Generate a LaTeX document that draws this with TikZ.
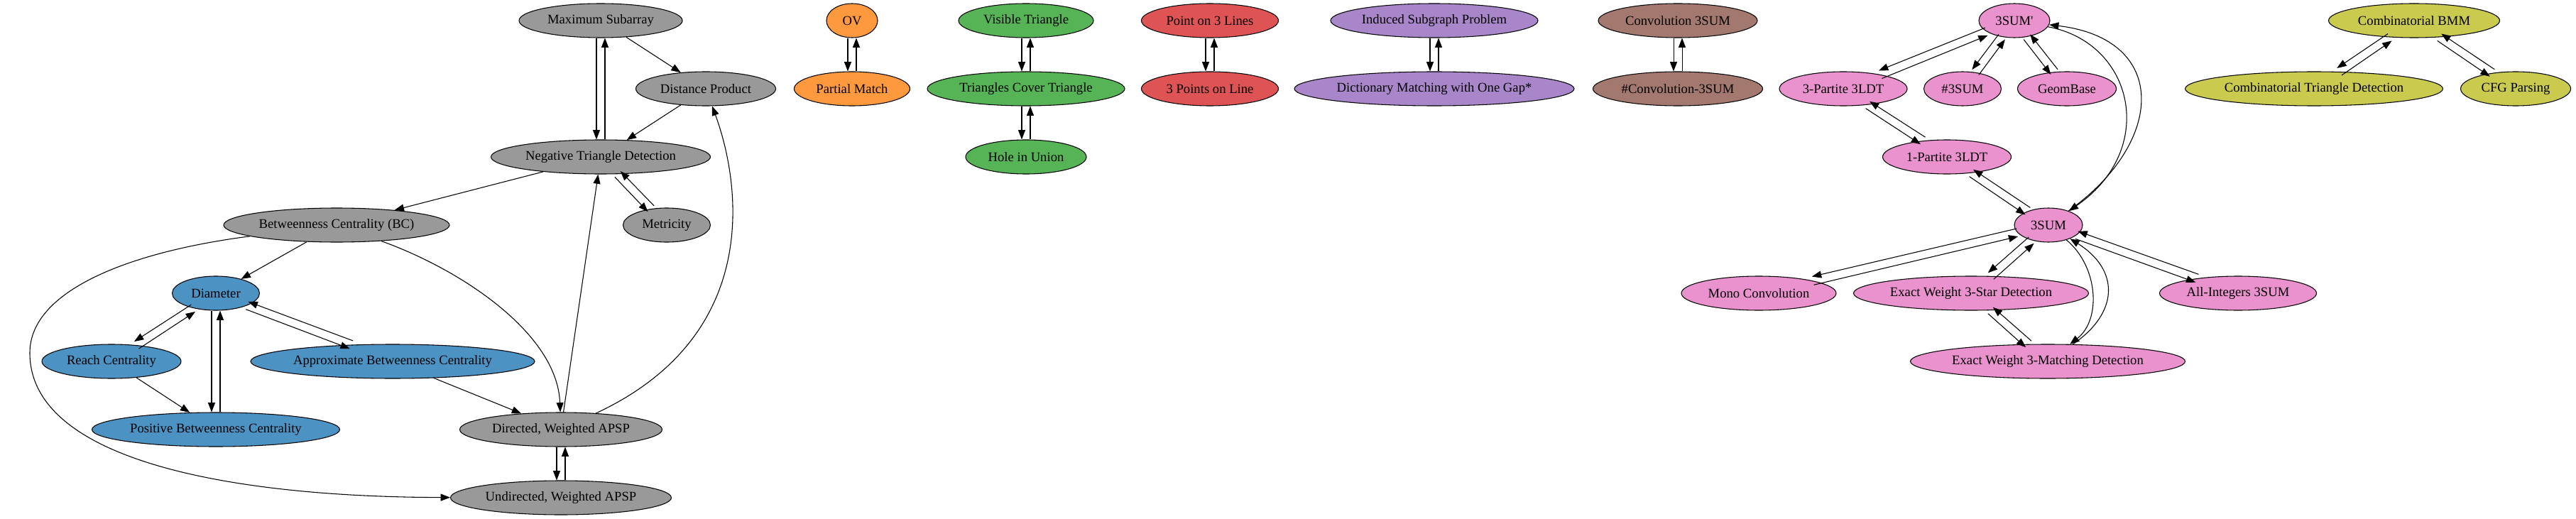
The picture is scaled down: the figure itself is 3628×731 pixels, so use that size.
\documentclass[tikz,border=0pt]{standalone}
\usepackage{fontspec}
\setmainfont{Liberation Serif}
\usetikzlibrary{arrows.meta,shapes.geometric,calc}
\definecolor{cgray}{RGB}{153,153,153}
\definecolor{cblue}{RGB}{76,146,195}
\definecolor{corange}{RGB}{255,153,62}
\definecolor{cgreen}{RGB}{86,179,86}
\definecolor{cred}{RGB}{222,83,84}
\definecolor{cpurple}{RGB}{169,134,202}
\definecolor{cbrown}{RGB}{163,120,111}
\definecolor{cpink}{RGB}{233,146,206}
\definecolor{colive}{RGB}{201,202,78}
\tikzset{
  prob/.style={draw, ellipse, inner sep=0pt, minimum height=36pt,
    font=\fontsize{14}{16}\selectfont},
  wd/.style={minimum width=#1*0.75pt},
  apsp/.style={prob, fill=cgray},
  cent/.style={prob, fill=cblue},
  ovp/.style={prob, fill=corange},
  geo/.style={prob, fill=cgreen},
  pts/.style={prob, fill=cred},
  subg/.style={prob, fill=cpurple},
  conv/.style={prob, fill=cbrown},
  sumthree/.style={prob, fill=cpink},
  bmm/.style={prob, fill=colive},
  pair/.style={to path={
    let \p1=($(\tikztotarget)-(\tikztostart)$), \n1={atan2(\y1,\x1)} in
    ([shift={(\n1-90:6)}]\tikztostart.\n1) --
    ([shift={(\n1-90:6)}]\tikztotarget.\n1+180) \tikztonodes}}
}
\begin{document}
\begin{tikzpicture}[x=0.75pt, y=0.75pt, line width=0.8pt,
    >={Triangle[length=10pt,width=7.5pt]}]
  \useasboundingbox (0,0) rectangle (3628,-731);
  \draw
    (846,-29) node[apsp, wd=230] (ms) {Maximum Subarray}
    (994,-125) node[apsp, wd=197] (dp) {Distance Product}
    (846,-221) node[apsp, wd=309] (ntd) {Negative Triangle Detection}
    (474,-317) node[apsp, wd=318] (bc) {Betweenness Centrality (BC)}
    (939,-317) node[apsp, wd=123] (met) {Metricity}
    (790,-605) node[apsp, wd=285] (dapsp) {Directed, Weighted APSP}
    (790,-701) node[apsp, wd=311] (uapsp) {Undirected, Weighted APSP}
    (304,-413) node[cent, wd=123] (dia) {Diameter}
    (157,-509) node[cent, wd=196] (rc) {Reach Centrality}
    (553,-509) node[cent, wd=400] (abc) {Approximate Betweenness Centrality}
    (304,-605) node[cent, wd=349] (pbc) {Positive Betweenness Centrality}
    (1200,-29) node[ovp, wd=72] (ov) {OV}
    (1200,-125) node[ovp, wd=163] (pm) {Partial Match}
    (1445,-29) node[geo, wd=190] (vt) {Visible Triangle}
    (1445,-125) node[geo, wd=278] (tct) {Triangles Cover Triangle}
    (1445,-221) node[geo, wd=170] (hiu) {Hole in Union}
    (1704,-29) node[pts, wd=193] (pol) {Point on 3 Lines}
    (1704,-125) node[pts, wd=193] (tpl) {3 Points on Line}
    (2020,-29) node[subg, wd=292] (isp) {Induced Subgraph Problem}
    (2020,-125) node[subg, wd=394] (dmg) {Dictionary Matching with One Gap*}
    (2363,-29) node[conv, wd=224] (cts) {Convolution 3SUM}
    (2363,-125) node[conv, wd=239] (ncts) {\#Convolution-3SUM}
    (2837,-29) node[sumthree, wd=100] (tsp) {3SUM\textquotesingle}
    (2596,-125) node[sumthree, wd=180] (tpart) {3-Partite 3LDT}
    (2764,-125) node[sumthree, wd=109] (nts) {\#3SUM}
    (2911,-125) node[sumthree, wd=139] (geom) {GeomBase}
    (2742,-221) node[sumthree, wd=181] (opart) {1-Partite 3LDT}
    (2885,-317) node[sumthree, wd=96] (ts) {3SUM}
    (2477,-413) node[sumthree, wd=218] (mono) {Mono Convolution}
    (2776,-413) node[sumthree, wd=331] (star) {Exact Weight 3-Star Detection}
    (3152,-413) node[sumthree, wd=221] (allint) {All-Integers 3SUM}
    (2884,-509) node[sumthree, wd=387] (match) {Exact Weight 3-Matching Detection}
    (3400,-29) node[bmm, wd=241] (cbmm) {Combinatorial BMM}
    (3259,-125) node[bmm, wd=363] (ctd) {Combinatorial Triangle Detection}
    (3543,-125) node[bmm, wd=155] (cfg) {CFG Parsing};
  \begin{scope}[->]
    \draw (ms) to[pair] (ntd);
    \draw (ntd) to[pair] (ms);
    \draw (ms) to (dp);
    \draw (dp) to (ntd);
    \draw (ntd) to (bc);
    \draw (ntd) to[pair] (met);
    \draw (met) to[pair] (ntd);
    \draw (dapsp) to (ntd);
    \draw (dapsp) .. controls (1080,-470) and (1040,-250) .. (dp);
    \draw (bc) .. controls (650,-380) and (785,-470) .. (dapsp);
    \draw (bc) to (dia);
    \draw (bc) .. controls (180,-355) and (42,-410) .. (42,-497)
      .. controls (42,-650) and (330,-700) .. (uapsp);
    \draw (dapsp) to[pair] (uapsp);
    \draw (uapsp) to[pair] (dapsp);
    \draw (abc) to (dapsp);
    \draw (dia) to[pair] (rc);
    \draw (rc) to[pair] (dia);
    \draw (dia) to[pair] (pbc);
    \draw (pbc) to[pair] (dia);
    \draw (dia) to[pair] (abc);
    \draw (abc) to[pair] (dia);
    \draw (rc) to (pbc);
    \draw (ov) to[pair] (pm);
    \draw (pm) to[pair] (ov);
    \draw (vt) to[pair] (tct);
    \draw (tct) to[pair] (vt);
    \draw (tct) to[pair] (hiu);
    \draw (hiu) to[pair] (tct);
    \draw (pol) to[pair] (tpl);
    \draw (tpl) to[pair] (pol);
    \draw (isp) to[pair] (dmg);
    \draw (dmg) to[pair] (isp);
    \draw (cts) to[pair] (ncts);
    \draw (ncts) to[pair] (cts);
    \draw (tsp) to[pair] (tpart);
    \draw (tpart) to[pair] (tsp);
    \draw (tsp) to[pair] (nts);
    \draw (nts) to[pair] (tsp);
    \draw (tsp) to[pair] (geom);
    \draw (geom) to[pair] (tsp);
    \draw (tsp) .. controls (3005,-60) and (3040,-210) .. (ts);
    \draw (ts) .. controls (3050,-200) and (3055,-55) .. (tsp);
    \draw (tpart) to[pair] (opart);
    \draw (opart) to[pair] (tpart);
    \draw (opart) to[pair] (ts);
    \draw (ts) to[pair] (opart);
    \draw (ts) to[pair] (mono);
    \draw (mono) to[pair] (ts);
    \draw (ts) to[pair] (star);
    \draw (star) to[pair] (ts);
    \draw (ts) to[pair] (allint);
    \draw (allint) to[pair] (ts);
    \draw (ts) .. controls (2955,-375) and (2960,-450) .. (match);
    \draw (match) .. controls (2985,-440) and (2985,-380) .. (ts);
    \draw (star) to[pair] (match);
    \draw (match) to[pair] (star);
    \draw (cbmm) to[pair] (ctd);
    \draw (ctd) to[pair] (cbmm);
    \draw (cbmm) to[pair] (cfg);
    \draw (cfg) to[pair] (cbmm);
  \end{scope}
\end{tikzpicture}
\end{document}
